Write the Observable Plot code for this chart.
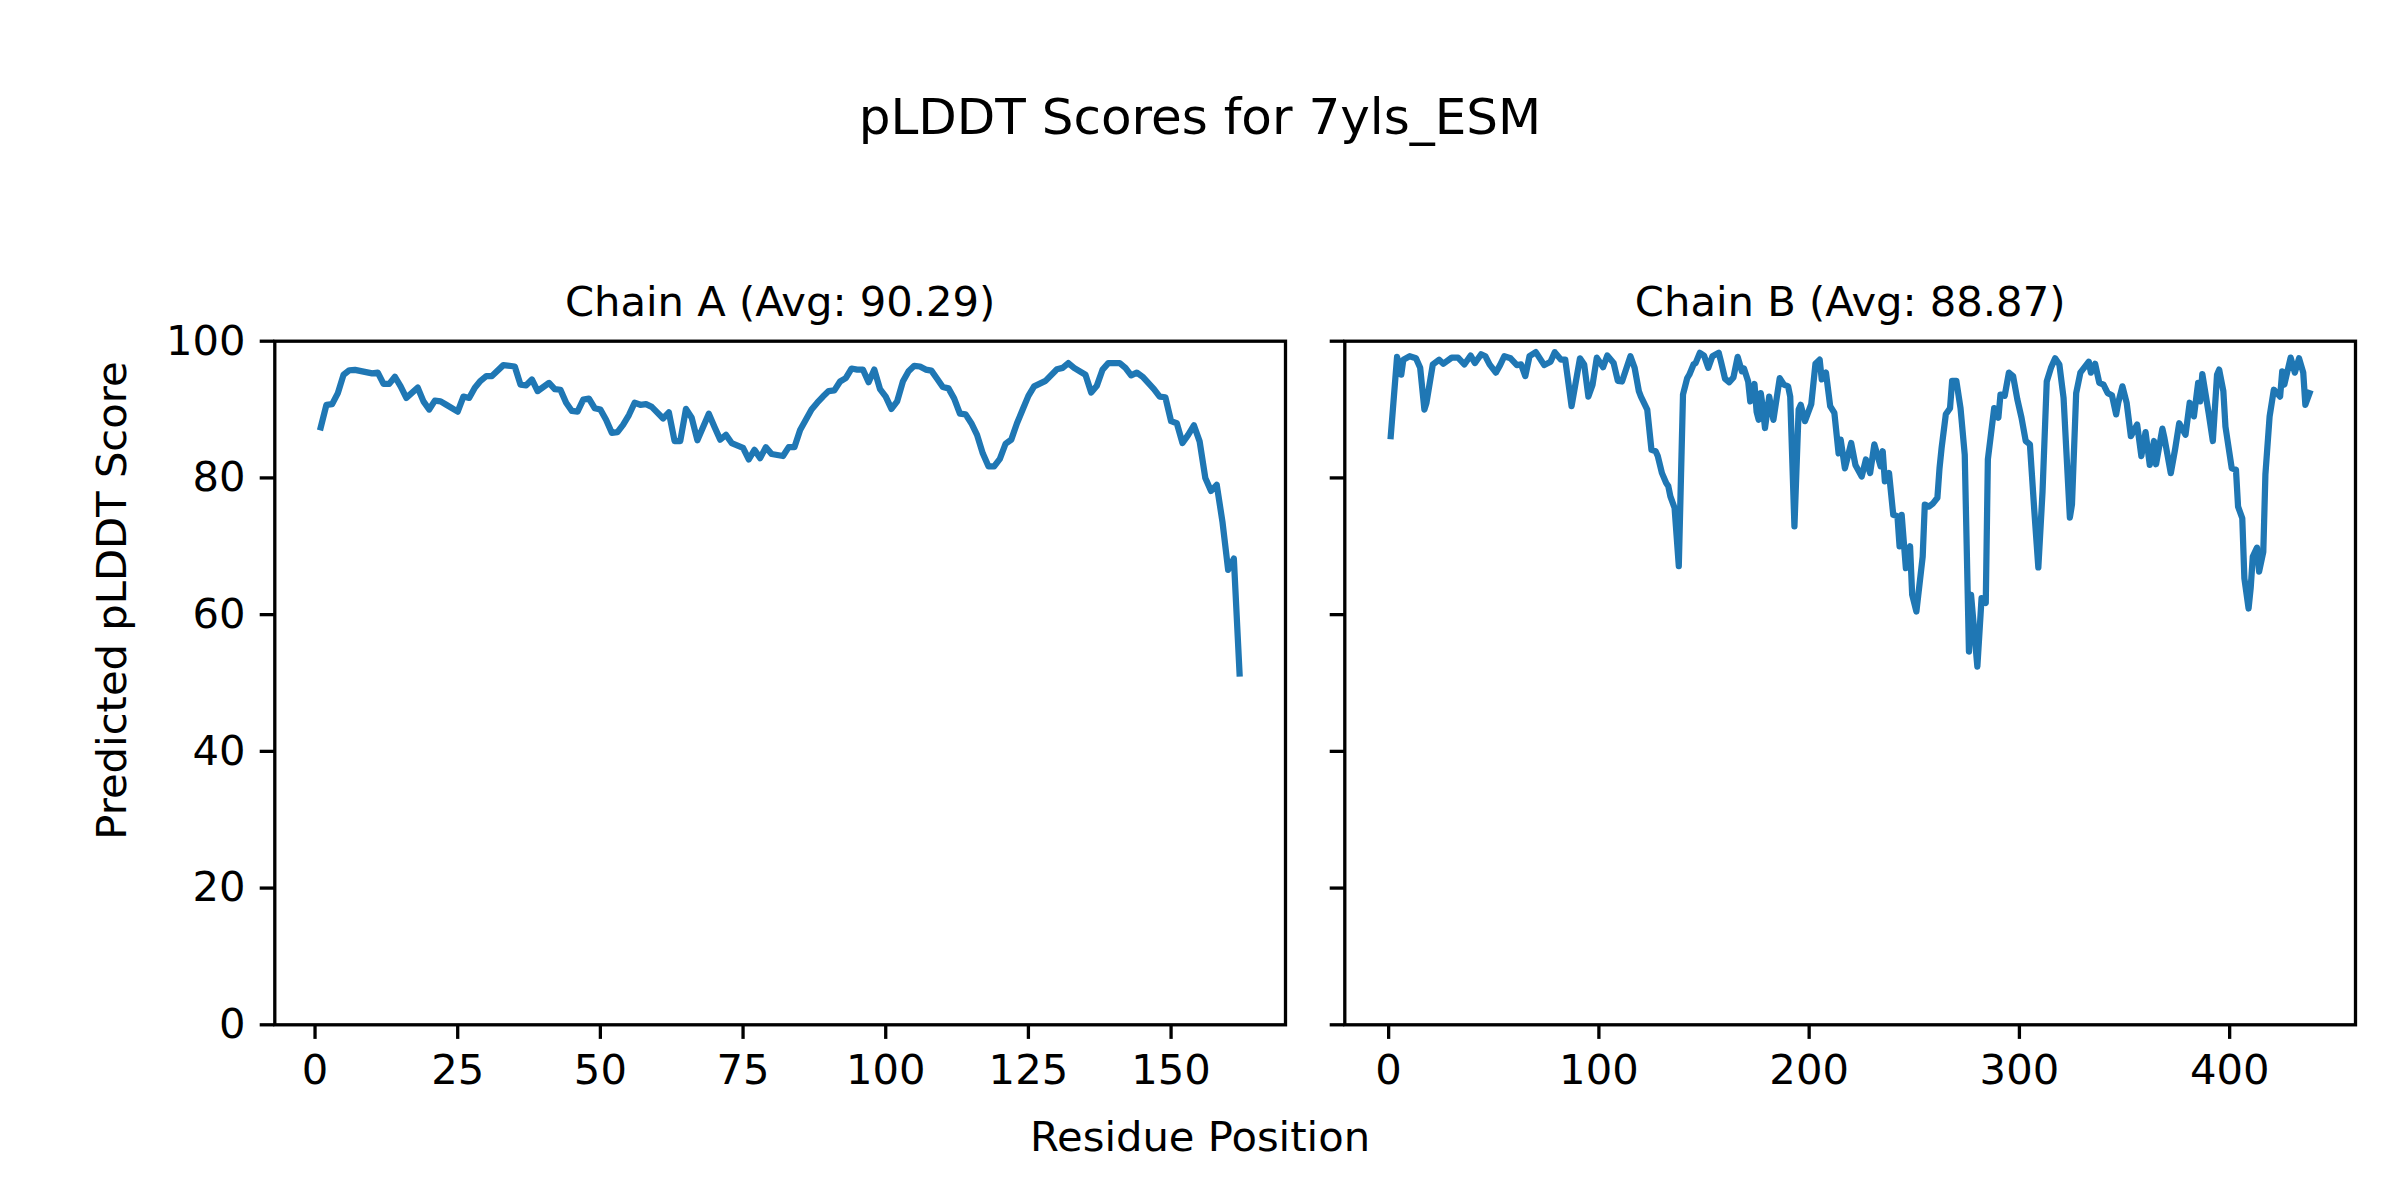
<!DOCTYPE html>
<html>
<head>
<meta charset="utf-8">
<script src="https://cdn.jsdelivr.net/npm/d3@7"></script>
<script src="https://cdn.jsdelivr.net/npm/@observablehq/plot@0.6"></script>
<style>
  html, body { margin: 0; padding: 0; background: white; }
  #root { width: 2400px; height: 1200px; background: white; font-family: 'DejaVu Sans', sans-serif; color: black; }
  #title { height: 230px; box-sizing: border-box; padding-top: 92px; line-height: 50px; font-size: 50px; text-align: center; white-space: nowrap; }
  #row { display: flex; height: 870px; }
  #row svg { flex: none; }
  #xlabel { height: 100px; box-sizing: border-box; padding-top: 16.4px; line-height: 41.7px; font-size: 41.7px; text-align: center; white-space: nowrap; }
</style>
</head>
<body>
<div id="root">
  <div id="title"></div>
  <div id="row"></div>
  <div id="xlabel"></div>
</div>
<script>
// ---- Text ----
const figTitle = "pLDDT Scores for 7yls_ESM";
const xLabel = "Residue Position";
const yLabel = "Predicted pLDDT Score";
const chainATitle = "Chain A (Avg: 90.29)";
const chainBTitle = "Chain B (Avg: 88.87)";

// ---- Ticks ----
const yTicks = [0, 20, 40, 60, 80, 100];
const xTicksA = [0, 25, 50, 75, 100, 125, 150];
const xTicksB = [0, 100, 200, 300, 400];

// ---- Chain A (residue, pLDDT) ----
const chainARes = [1,2,3,4,5,6,7,10,11,12,13,14,15,16,18,19,20,21,22,23,25,26,27,28,29,30,31,33,35,36,37,38,39,41,42,43,44,45,46,47,48,49,50,51,52,53,54,55,56,57,58,59,61,62,63,64,65,66,67,69,70,71,72,73,75,76,77,78,79,80,82,83,84,85,86,87,88,89,90,91,92,93,94,95,96,97,98,99,100,101,102,103,104,105,106,107,108,109,110,111,112,113,114,115,116,117,118,119,120,121,122,123,124,125,126,128,130,131,132,133,135,136,137,138,139,141,142,143,144,145,146,147,148,149,150,151,152,153,154,155,156,157,158,159,160,161,162];
const chainAScore = [87.4,90.7,90.8,92.4,95.1,95.75,95.8,95.3,95.4,93.75,93.75,94.8,93.4,91.7,93.2,91.2,90.0,91.3,91.2,90.7,89.7,91.9,91.7,93.2,94.2,94.9,94.9,96.5,96.3,93.65,93.55,94.4,92.7,93.9,93.0,92.9,91.0,89.8,89.7,91.45,91.6,90.2,90.0,88.5,86.6,86.7,87.8,89.2,91.0,90.7,90.8,90.4,88.7,89.6,85.4,85.4,90.1,88.8,85.5,89.4,87.45,85.6,86.3,85.1,84.4,82.7,84.1,82.9,84.5,83.5,83.2,84.5,84.5,87.0,88.5,90.0,91.0,91.9,92.7,92.8,94.1,94.6,96.0,95.85,95.85,94.0,95.85,93.0,91.9,90.1,91.2,94.1,95.6,96.4,96.3,95.85,95.7,94.5,93.3,93.1,91.6,89.4,89.3,88.0,86.3,83.6,81.7,81.7,82.8,85.0,85.6,88.0,90.0,92.0,93.4,94.2,95.9,96.1,96.8,96.1,95.1,92.5,93.5,95.85,96.8,96.8,96.1,95.0,95.4,94.8,93.9,93.0,91.9,91.8,88.3,88.0,85.1,86.3,87.7,85.35,80.0,78.1,79.0,73.6,66.55,68.2,51.4];

// ---- Chain B (residue, pLDDT) ----
const chainBRes = [1,4,6,7,10,13,15,17,18,21,24,26,30,33,36,39,41,44,46,48,51,53,55,58,61,63,65,67,70,74,77,79,82,84,87,91,93,95,97,99,102,104,107,109,111,115,117,119,120,123,125,127,128,130,132,133,134,136,138,140,142,143,145,146,148,150,152,154,157,158,160,162,164,166,168,169,171,172,174,175,176,177,178,179,181,183,186,188,190,191,193,195,196,198,201,203,205,206,208,210,212,214,215,217,220,222,225,227,229,231,234,235,236,238,240,242,243,244,246,248,249,251,254,255,257,259,261,262,263,265,267,268,270,272,274,276,277,280,282,284,285,288,290,291,293,295,297,299,301,303,305,307,309,311,313,315,317,319,321,324,325,327,329,333,334,336,338,340,342,344,346,347,349,351,353,356,358,360,362,364,365,368,369,372,374,376,379,381,383,385,386,387,390,392,394,395,397,398,401,403,404,406,407,409,410,411,413,414,416,417,419,421,424,425,426,429,431,433,435,436,438];
const chainBScore = [86.1,97.7,95.1,97.3,97.8,97.5,96.1,90.0,91.0,96.6,97.3,96.7,97.6,97.6,96.6,97.9,96.8,98.1,97.8,96.6,95.4,96.5,97.8,97.5,96.5,96.6,94.9,97.8,98.4,96.5,97.0,98.4,97.3,97.3,90.5,97.5,96.6,91.9,93.65,97.6,96.2,97.9,96.8,94.2,94.1,97.8,96.1,92.7,91.9,90.0,84.1,83.9,83.2,80.7,79.25,78.8,77.3,75.6,67.1,92.2,94.6,95.1,96.6,96.8,98.3,97.9,96.1,97.8,98.3,97.1,94.5,94.0,94.7,97.7,95.6,96.0,94.1,91.2,93.75,89.7,88.5,92.4,90.2,87.3,91.9,88.5,94.6,93.65,93.4,91.9,72.9,90.0,90.7,88.3,90.8,96.7,97.3,94.4,95.4,90.5,89.5,83.6,85.6,81.4,85.1,81.9,80.2,82.7,80.7,84.9,81.7,83.9,79.5,80.7,74.6,74.4,70.0,74.6,66.8,70.0,62.9,60.45,68.5,76.1,75.8,76.3,77.1,81.4,84.4,89.3,90.2,94.2,94.2,90.2,83.4,54.6,62.9,52.4,62.4,61.7,82.7,90.2,88.8,92.2,92.0,95.4,94.9,91.5,88.8,85.4,84.9,75.6,66.9,78.0,94.1,96.1,97.5,96.6,91.7,74.2,76.1,92.4,95.4,97.0,95.4,96.7,93.9,93.65,92.4,92.1,89.3,91.0,93.4,91.0,86.1,87.8,83.2,86.7,81.9,85.4,82.0,87.2,85.8,80.7,84.1,88.0,86.3,91.0,89.0,93.9,91.2,95.2,89.5,85.4,95.1,95.85,92.7,87.5,81.4,81.2,75.8,74.1,65.3,60.9,63.9,68.5,69.8,66.3,69.2,80.5,89.0,92.9,91.9,95.6,93.65,97.6,95.4,97.5,95.4,90.7,92.4];

// ---- Styling ----
const FONT = "'DejaVu Sans', sans-serif";
const FS = 41.7;          // 10pt @ 300dpi
const LINE_COLOR = "#1f77b4";
const TICK = 14.6;
const SPINE = 3.3;
const PANEL_H = 870;
const PANEL_TOP = 230;    // page offset of the panel row
const M_TOP = 110.7;
const M_BOTTOM = 75.7;

document.getElementById("title").textContent = figTitle;
document.getElementById("xlabel").textContent = xLabel;

function panel({res, score, title, xTicks, width, marginLeft, marginRight, showYLabels}) {
  const data = res.map((r, i) => ({r, s: score[i]}));
  const [lo, hi] = d3.extent(res);
  const pad = (hi - lo) * 0.05;
  const marks = [
    Plot.axisX({ticks: xTicks, tickSize: TICK, tickPadding: TICK, strokeWidth: SPINE, fontSize: FS, label: null, fill: "black", stroke: "black"}),
    Plot.axisY({ticks: yTicks, tickSize: TICK, tickPadding: TICK, strokeWidth: SPINE, fontSize: FS, label: null, fill: "black", stroke: "black",
      tickFormat: showYLabels ? (d => String(d)) : (() => "")}),
    Plot.line(data, {x: "r", y: "s", stroke: LINE_COLOR, strokeWidth: 6.25, strokeLinejoin: "round", strokeLinecap: "square"}),
    Plot.frame({stroke: "black", strokeWidth: SPINE}),
    Plot.text([title], {text: d => d, frameAnchor: "top", dy: -25, lineAnchor: "bottom", fontSize: FS, fill: "black"})
  ];
  if (showYLabels) {
    // figure-level y label, centred on the page height (y = 600)
    const frameCenter = (M_TOP + PANEL_H - M_BOTTOM) / 2;
    const dyLabel = (600 - PANEL_TOP) - frameCenter;
    marks.push(Plot.text([yLabel], {text: d => d, frameAnchor: "left", rotate: -90, dx: -(marginLeft - 112), dy: dyLabel, textAnchor: "middle", lineAnchor: "middle", fontSize: FS, fill: "black"}));
  }
  return Plot.plot({
    width, height: PANEL_H,
    marginLeft, marginRight, marginTop: M_TOP, marginBottom: M_BOTTOM,
    style: {fontFamily: FONT, fontSize: FS + "px", background: "white", color: "black", overflow: "visible"},
    x: {domain: [lo - pad, hi + pad]},
    y: {domain: [0, 100]},
    marks
  });
}

const row = document.getElementById("row");
row.appendChild(panel({res: chainARes, score: chainAScore, title: chainATitle, xTicks: xTicksA,
  width: 1300, marginLeft: 274.3, marginRight: 15, showYLabels: true}));
row.appendChild(panel({res: chainBRes, score: chainBScore, title: chainBTitle, xTicks: xTicksB,
  width: 1100, marginLeft: 44.3, marginRight: 45, showYLabels: false}));
</script>
</body>
</html>
